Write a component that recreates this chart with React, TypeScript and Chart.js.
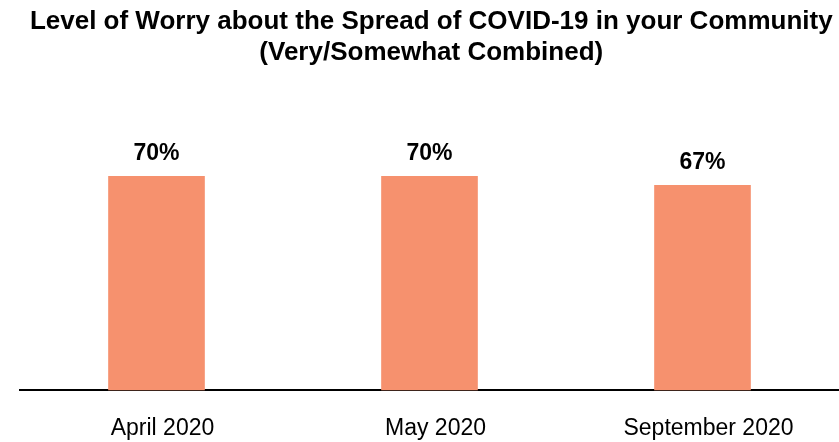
import React, { useEffect, useRef } from "react";
import { Chart, registerables } from "chart.js";

Chart.register(...registerables);

const titleLines = [
  "Level of Worry about the Spread of COVID-19 in your Community",
  "(Very/Somewhat Combined)",
];
const categories = ["April 2020", "May 2020", "September 2020"];
const values = [70, 70, 67];
const barColor = "rgb(246,145,110)";
const FONT = "'Liberation Sans', Arial, sans-serif";

const valueLabels = {
  id: "valueLabels",
  afterDatasetsDraw(chart: any) {
    const ctx = chart.ctx;
    const meta = chart.getDatasetMeta(0);
    ctx.save();
    ctx.font = `bold 23px ${FONT}`;
    ctx.fillStyle = "#000";
    ctx.textAlign = "center";
    ctx.textBaseline = "alphabetic";
    meta.data.forEach((bar: any, i: number) => {
      ctx.fillText(`${values[i]}%`, bar.x, bar.y - 16);
    });
    ctx.restore();
  },
};

const whiteBg = {
  id: "whiteBg",
  beforeDraw(chart: any) {
    const ctx = chart.ctx;
    ctx.save();
    ctx.fillStyle = "#fff";
    ctx.fillRect(0, 0, chart.width, chart.height);
    ctx.restore();
  },
};

export default function App() {
  const ref = useRef<HTMLCanvasElement | null>(null);
  useEffect(() => {
    if (!ref.current) return;
    const chart = new Chart(ref.current, {
      type: "bar",
      data: {
        labels: categories,
        datasets: [
          {
            data: values,
            backgroundColor: barColor,
            borderWidth: 0,
            categoryPercentage: 1,
            barPercentage: 0.354,
          },
        ],
      },
      options: {
        animation: false,
        responsive: false,
        maintainAspectRatio: false,
        devicePixelRatio: 1,
        layout: { padding: { left: 20, right: -3.5, top: 0, bottom: -24 } },
        plugins: {
          legend: { display: false },
          tooltip: { enabled: false },
          title: {
            display: true,
            text: titleLines,
            color: "#000",
            font: { family: FONT, size: 26, weight: "bold", lineHeight: 1.2 },
            padding: { top: 6, bottom: 15.6 },
          },
        },
        scales: {
          x: {
            grid: { display: false, drawTicks: false },
            border: { display: true, color: "#000", width: 2 },
            ticks: {
              color: "#000",
              font: { family: FONT, size: 23 },
              padding: 24,
              labelOffset: 6,
              maxRotation: 0,
            },
          },
          y: { display: false, min: 0, max: 100 },
        },
      },
      plugins: [whiteBg, valueLabels],
    });
    return () => chart.destroy();
  }, []);
  return (
    <div style={{ position: "absolute", left: 0, top: 0, width: 839, height: 442, background: "#fff" }}>
      <canvas ref={ref} width={839} height={442} style={{ display: "block", width: 839, height: 442 }} />
    </div>
  );
}
